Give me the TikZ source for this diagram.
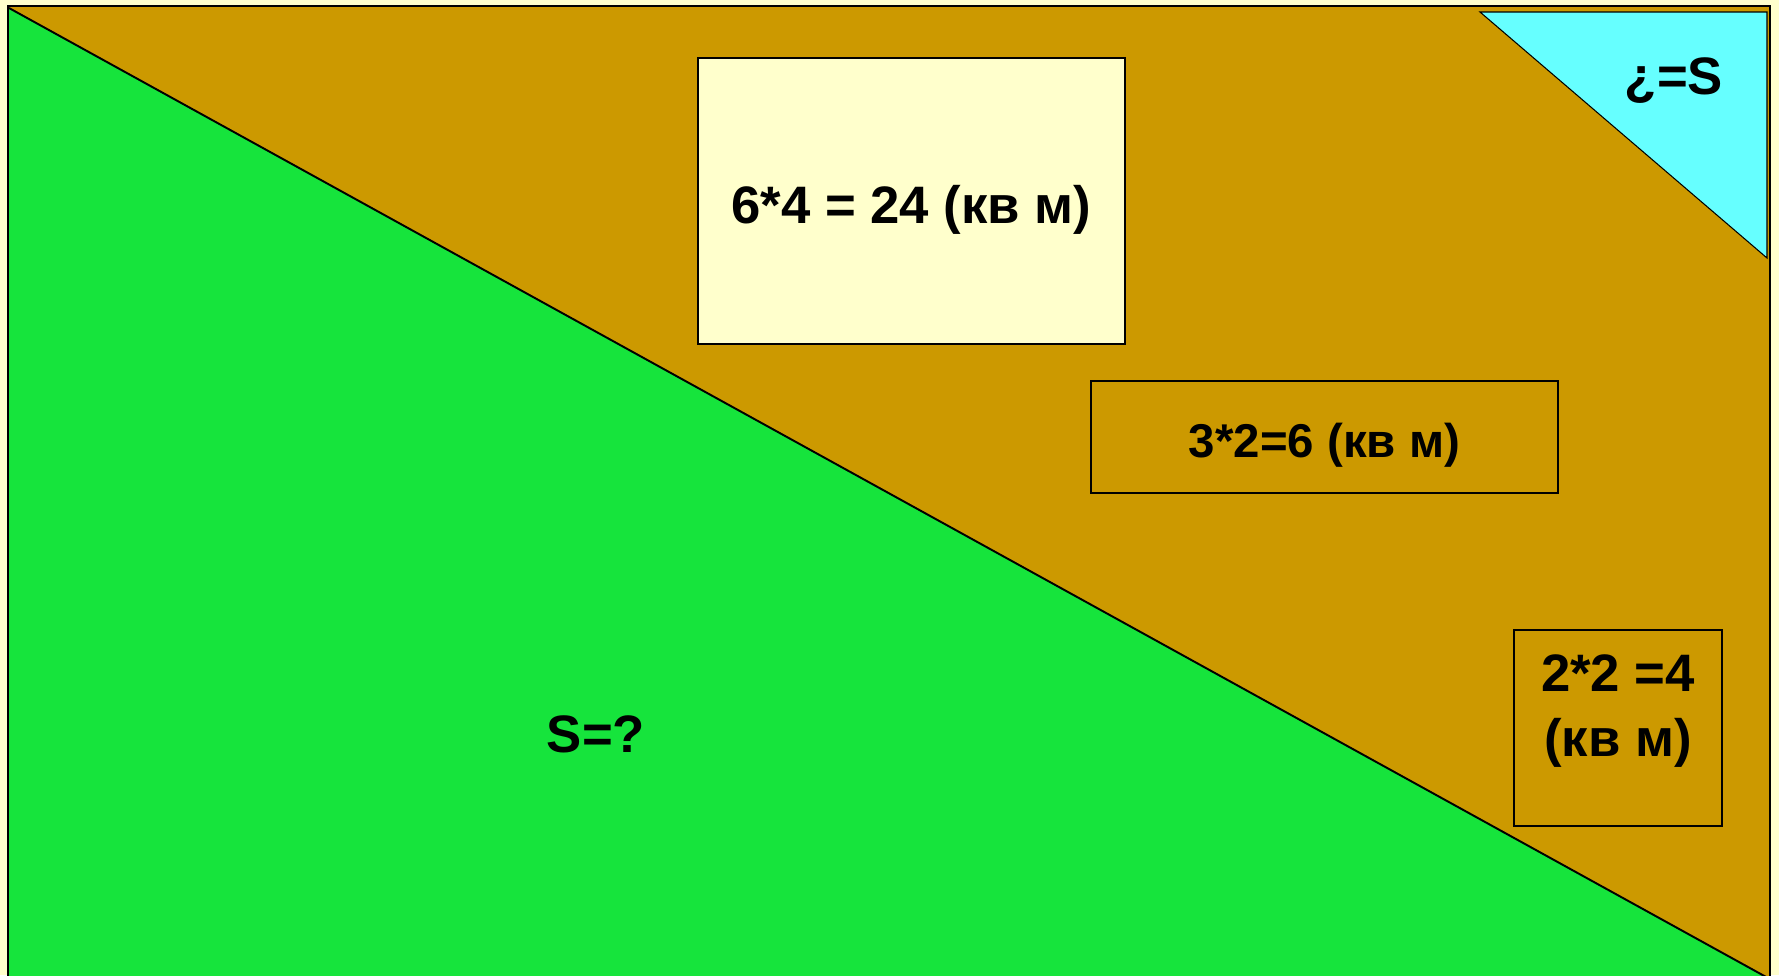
\documentclass[tikz,border=0pt]{standalone}
\usepackage{fontspec}
\setmainfont{Liberation Sans}
\usetikzlibrary{positioning}
\definecolor{fieldbrown}{HTML}{CC9900}
\definecolor{lawngreen}{HTML}{16E43C}
\definecolor{pondcyan}{HTML}{66FFFF}
\definecolor{paper}{HTML}{FFFFCC}
\begin{document}
\begin{tikzpicture}[
        x=0.02cm, y=-0.02cm,
        areabox/.style={draw, rectangle, line width=0.7pt, inner sep=0pt},
        bigtext/.style={font=\bfseries\fontsize{30}{37}\selectfont, align=center},
        midtext/.style={font=\bfseries\fontsize{27}{32}\selectfont, align=center}
    ]
        \fill[paper] (0,0) rectangle (1779,975);
        \useasboundingbox (0,0) rectangle (1779,975);

        % the field and its parts
        \coordinate (nw) at (8,6);
        \coordinate (se) at (1770,990);
        \fill[fieldbrown] (nw) rectangle (se);
        \fill[lawngreen] (9,8) -- (1768,978) -- (9,990) -- cycle;
        \draw[line width=1.1pt] (9,8) -- (1768,978);
        \filldraw[fill=pondcyan, line width=0.6pt] (1480,12) -- (1767,12) -- (1767,258) -- cycle;
        \draw[line width=1.2pt] (nw) rectangle (se);

        \node[areabox, fill=paper, minimum width=8.54cm, minimum height=5.72cm] (big) at (911.5,201) {};
        \node[bigtext, yshift=-0.18cm] at (big.center) {6*4 = 24 (кв м)};

        \node[areabox, minimum width=9.34cm, minimum height=2.24cm] (mid) at (1324.5,437) {};
        \node[midtext, yshift=-0.16cm] at (mid.center) {3*2=6 (кв м)};

        \node[areabox, minimum width=4.16cm, minimum height=3.92cm] (small) at (1618,728) {};
        \node[bigtext, below=0.38cm of small.north] (smalllbl) {2*2 =4\\(кв м)};

        \node[bigtext] (pond) at (1674,81) {¿=S};
        \node[bigtext] (lawn) at (596,734) {S=?};
    \end{tikzpicture}
\end{document}
